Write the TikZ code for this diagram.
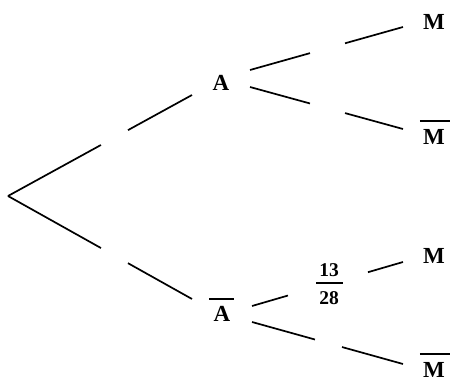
\documentclass[tikz,border=0pt]{standalone}
\usepackage{fontspec}
\setmainfont{Liberation Serif}
\usetikzlibrary{calc}
\begin{document}
\begin{tikzpicture}[x=1pt,y=-1pt,
  lbl/.style={font=\fontsize{23}{27}\selectfont\bfseries, inner sep=0pt, anchor=center},
  frac/.style={font=\fontsize{19.5}{23}\selectfont\bfseries, inner sep=0pt, anchor=center},
  branch/.style={line width=1.7pt},
  barline/.style={line width=1.6pt}]
\useasboundingbox (0,0) rectangle (451,383);
% labels
\node[lbl] (A)   at (221,83)  {A};
\node[lbl] (Ab)  at (222,314) {A};
\node[lbl] (M1)  at (434,22)  {M};
\node[lbl] (M1b) at (434,137) {M};
\node[lbl] (M2)  at (434,256) {M};
\node[lbl] (M2b) at (434,370) {M};
\node[frac] (num) at (329,270) {13};
\node[frac] (den) at (329,298) {28};
\draw[barline] (316,283) -- (343,283);
% bars over letters
\draw[barline] ([xshift=-4pt,yshift=7pt]Ab.north west) -- ([xshift=3pt,yshift=7pt]Ab.north east);
\draw[barline] ([xshift=-3pt,yshift=8pt]M1b.north west) -- ([xshift=5pt,yshift=8pt]M1b.north east);
\draw[barline] ([xshift=-3pt,yshift=8pt]M2b.north west) -- ([xshift=5pt,yshift=8pt]M2b.north east);
% branch end points
\coordinate (root) at (8,196);
\coordinate (e1) at (192,95);
\coordinate (e2) at (192,299);
\coordinate (s3) at (250,70);  \coordinate (e3) at (403,27);
\coordinate (s4) at (250,87);  \coordinate (e4) at (403,129);
\coordinate (s5) at (252,306); \coordinate (e5) at (403,262);
\coordinate (s6) at (252,322); \coordinate (e6) at (403,364);
% branches with gaps
\draw[branch] (root) -- ($(root)!0.505!(e1)$) ($(root)!0.652!(e1)$) -- (e1);
\draw[branch] (root) -- ($(root)!0.505!(e2)$) ($(root)!0.652!(e2)$) -- (e2);
\draw[branch] (s3) -- ($(s3)!0.392!(e3)$) ($(s3)!0.621!(e3)$) -- (e3);
\draw[branch] (s4) -- ($(s4)!0.392!(e4)$) ($(s4)!0.621!(e4)$) -- (e4);
\draw[branch] (s5) -- ($(s5)!0.238!(e5)$) ($(s5)!0.768!(e5)$) -- (e5);
\draw[branch] (s6) -- ($(s6)!0.417!(e6)$) ($(s6)!0.596!(e6)$) -- (e6);
\end{tikzpicture}
\end{document}
